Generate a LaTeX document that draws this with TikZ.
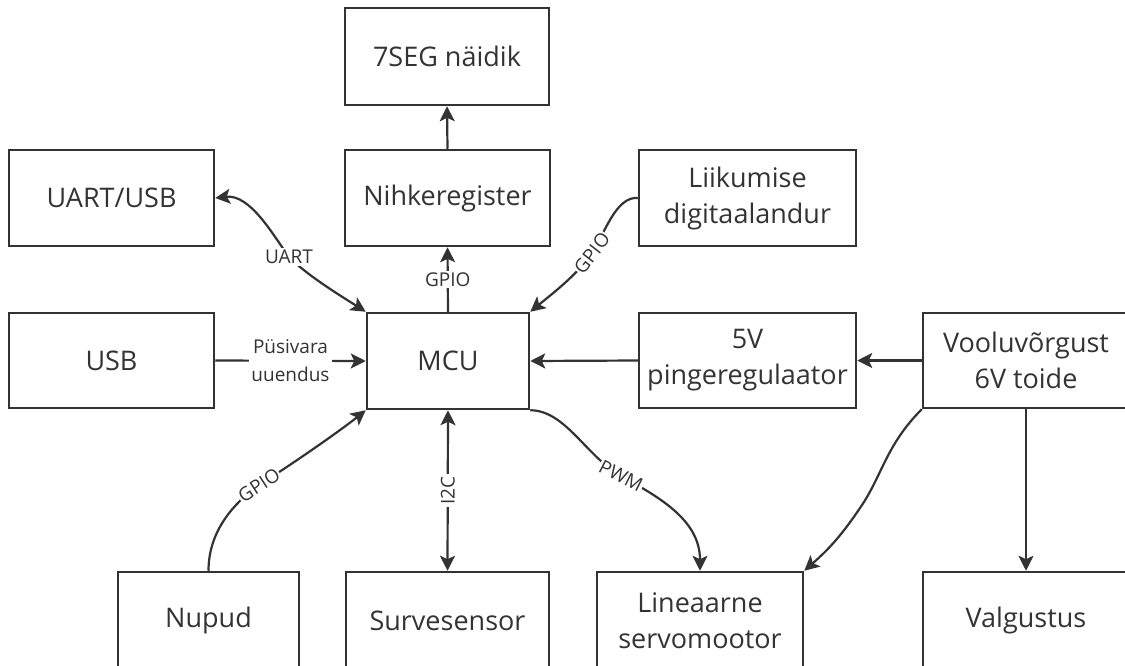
\documentclass[tikz,border=0pt]{standalone}
\usepackage{fontspec}
\setmainfont{Open Sans}
\usetikzlibrary{arrows.meta}
\definecolor{ink}{HTML}{333333}
\tikzset{
  blk/.style={draw=ink, line width=2.5pt, rectangle, inner sep=0pt, text=ink,
    align=center, font=\fontsize{27}{36}\selectfont},
  conn/.style={draw=ink, line width=2.2pt},
  lbl/.style={fill=white, text=ink, inner sep=2pt, align=center,
    font=\fontsize{19}{28}\selectfont},
  >={Stealth[length=15pt,width=15pt,inset=3.5pt]}
}
\begin{document}
\begin{tikzpicture}[x=1pt,y=-1pt]
\useasboundingbox (0,0) rectangle (1125,665);
\clip (0,0) rectangle (1125,665);
\node[blk, minimum width=204, minimum height=97] (sevseg) at (447,56.5) {7SEG näidik};
\node[blk, minimum width=205, minimum height=96] (nihke) at (447.5,198) {Nihkeregister};
\node[blk, minimum width=205, minimum height=96] (uartusb) at (111.5,198) {UART/USB};
\node[blk, minimum width=217, minimum height=96] (liik) at (747.5,198) {Liikumise\\digitaalandur};
\node[blk, minimum width=205, minimum height=95] (usb) at (111.5,360.5) {USB};
\node[blk, minimum width=162, minimum height=96] (mcu) at (448,361) {MCU};
\node[blk, minimum width=217, minimum height=95] (reg) at (747.5,360.5) {5V\\pingeregulaator};
\node[blk, minimum width=206, minimum height=95] (volt) at (1026,360.5) {Vooluvõrgust\\6V toide};
\node[blk, minimum width=181, minimum height=97] (nupud) at (208.5,620.5) {Nupud};
\node[blk, minimum width=203, minimum height=97] (surve) at (447.5,620.5) {Survesensor};
\node[blk, minimum width=206, minimum height=97] (servo) at (700,620.5) {Lineaarne\\servomootor};
\node[blk, minimum width=206, minimum height=97] (valg) at (1026,620.5) {Valgustus};

% straight connectors
\draw[conn,->] (nihke.north) -- (sevseg.south);
\draw[conn,->] (mcu.north) -- node[lbl] {GPIO} (nihke.south);
\draw[conn,->] (usb.east) -- node[lbl] {Püsivara\\uuendus} (mcu.west);
\draw[conn,->] (reg.west) -- (mcu.east);
\draw[conn,->] (volt.west) -- (reg.east);
\draw[conn,->] (volt.south) -- (valg.north);
\draw[conn,<->] (mcu.south) -- node[lbl, rotate=90] {I2C} (surve.north);

% curved connectors
\coordinate (lu) at (289,257);
\draw[conn,<->] (uartusb.east) .. controls +(35,-4) and +(-16,-22) .. (lu)
   .. controls +(18,18) and +(-30,-19) .. (mcu.north west);
\node[lbl] at (lu) {UART};

\coordinate (lg) at (592,253);
\draw[conn,->] (liik.west) .. controls +(-22,-2) and +(12,-18) .. (lg)
   .. controls +(-15,22) and +(22,-18) .. (mcu.north east);
\node[lbl, rotate=52, inner sep=1pt] at (lg) {GPIO};

\coordinate (ln) at (259,485);
\draw[conn,->] (nupud.north) .. controls +(0,-40) and +(-25,18) .. (ln)
   .. controls +(35,-22) and +(-25,20) .. (mcu.south west);
\node[lbl, rotate=33, inner sep=1pt] at (ln) {GPIO};

\coordinate (lp) at (621,476);
\draw[conn,->] (mcu.south east) .. controls +(35,0) and +(-35,-20) .. (lp)
   .. controls +(40,22) and +(0,-50) .. (servo.north);
\node[lbl, rotate=-27, inner sep=1pt] at (lp) {PWM};

\draw[conn,->] (volt.south west) .. controls +(-35,35) and +(20,-30) .. (862,505)
   .. controls +(-20,30) and +(25,-22) .. (servo.north east);
\end{tikzpicture}
\end{document}
